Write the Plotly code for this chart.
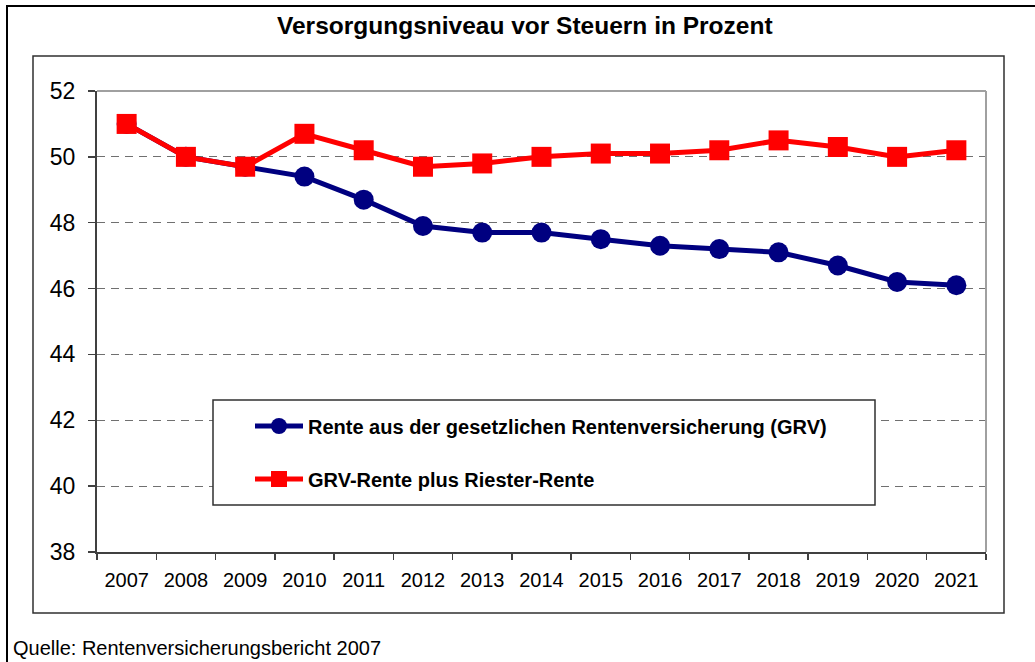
import plotly.graph_objects as go

years = [str(y) for y in range(2007, 2022)]
grv = [51.0, 50.0, 49.7, 49.4, 48.7, 47.9, 47.7, 47.7, 47.5, 47.3, 47.2, 47.1, 46.7, 46.2, 46.1]
grv_riester = [51.0, 50.0, 49.7, 50.7, 50.2, 49.7, 49.8, 50.0, 50.1, 50.1, 50.2, 50.5, 50.3, 50.0, 50.2]
name_grv = "Rente aus der gesetzlichen Rentenversicherung (GRV)"
name_riester = "GRV-Rente plus Riester-Rente"
title_text = "Versorgungsniveau vor Steuern in Prozent"
source_text = "Quelle: Rentenversicherungsbericht 2007"

W, H = 1035, 662
L, R, T, B = 97, 986, 91, 552
PW, PH = R - L, B - T

def px(x):
    return (x - L) / PW

def py(y):
    return (B - y) / PH

FONT = "Liberation Sans, Arial, sans-serif"

fig = go.Figure()
fig.add_trace(go.Scatter(
    x=years, y=grv, name=name_grv, mode="lines+markers",
    line=dict(color="#000080", width=5),
    marker=dict(symbol="circle", size=20, color="#000080"),
    legend="legend",
))
fig.add_trace(go.Scatter(
    x=years, y=grv_riester, name=name_riester, mode="lines+markers",
    line=dict(color="#FF0000", width=5),
    marker=dict(symbol="square", size=20, color="#FF0000"),
    legend="legend2",
))

shapes = [
    # outer frame
    dict(type="rect", xref="paper", yref="paper", x0=px(7), x1=px(1045), y0=py(6), y1=py(680),
         line=dict(color="black", width=2), fillcolor="rgba(0,0,0,0)", layer="below"),
    # chart area frame
    dict(type="rect", xref="paper", yref="paper", x0=px(33), x1=px(1004), y0=py(56), y1=py(613),
         line=dict(color="#303030", width=1.5), fillcolor="rgba(0,0,0,0)", layer="below"),
    # plot area top and right border
    dict(type="line", xref="paper", yref="paper", x0=0, x1=1, y0=1, y1=1,
         line=dict(color="#a0a0a0", width=2), layer="above"),
    dict(type="line", xref="paper", yref="paper", x0=1, x1=1, y0=0, y1=1,
         line=dict(color="#a0a0a0", width=2), layer="above"),
    # legend box
    dict(type="rect", xref="paper", yref="paper", x0=px(213), x1=px(875), y0=py(400), y1=py(505),
         line=dict(color="#303030", width=1.5), fillcolor="white", layer="above"),
]

annotations = [
    dict(text=title_text, xref="paper", yref="paper", x=px(525), y=py(25), xanchor="center",
         yanchor="middle", showarrow=False, font=dict(family=FONT, size=24.5, color="black", weight="bold")),
    dict(text=source_text, xref="paper", yref="paper", x=px(11), y=py(648), xanchor="left",
         yanchor="middle", showarrow=False, font=dict(family=FONT, size=20, color="black")),
]

legend_common = dict(
    xanchor="left", yanchor="middle", bgcolor="rgba(0,0,0,0)", borderwidth=0,
    font=dict(family=FONT, size=20, color="black", weight="bold"), itemwidth=48,
)

fig.update_layout(
    width=W, height=H,
    margin=dict(l=L, r=W - R, t=T, b=H - B, pad=0),
    paper_bgcolor="white", plot_bgcolor="white",
    font=dict(family=FONT, color="black"),
    showlegend=True,
    legend=dict(x=px(250), y=py(426), **legend_common),
    legend2=dict(x=px(250), y=py(479), **legend_common),
    xaxis=dict(
        type="category", range=[-0.5, len(years) - 0.5], tickson="boundaries",
        ticks="outside", ticklen=6, tickcolor="#404040", tickwidth=1.5,
        showline=True, linecolor="#404040", linewidth=2,
        showgrid=False, zeroline=False, ticklabelstandoff=9,
        tickfont=dict(family=FONT, size=20, color="black"),
        fixedrange=True,
    ),
    yaxis=dict(
        range=[38, 52], dtick=2, tick0=38,
        ticks="outside", ticklen=7, tickcolor="#404040", tickwidth=1.5,
        showline=True, linecolor="#404040", linewidth=2,
        showgrid=True, gridcolor="#707070", gridwidth=1, griddash="8px,6px",
        zeroline=False, ticklabelstandoff=8,
        tickfont=dict(family=FONT, size=23, color="black"),
        fixedrange=True,
    ),
    shapes=shapes,
    annotations=annotations,
)

fig.write_html(
    "out.html",
    config={"displayModeBar": False, "staticPlot": True},
    post_script="document.body.style.margin='0';document.body.style.overflow='hidden';",
)
